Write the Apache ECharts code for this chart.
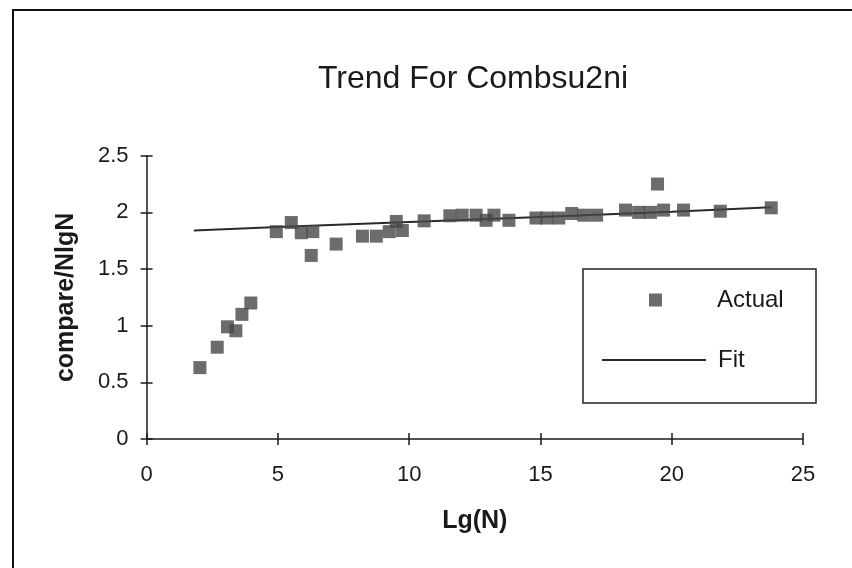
<!DOCTYPE html>
<html>
<head>
<meta charset="utf-8">
<script src="https://cdn.jsdelivr.net/npm/echarts@6/dist/echarts.min.js"></script>
<style>html,body{margin:0;padding:0;background:#fff;}#c{width:852px;height:568px;}</style>
</head>
<body>
<div id="c"></div>
<script>
var titleText = 'Trend For Combsu2ni';
var xName = 'Lg(N)';
var yName = 'compare/NlgN';
var actualX = [2.03, 2.69, 3.08, 3.40, 3.63, 3.97, 4.94, 5.51, 5.89, 6.33, 6.27, 7.22, 8.22, 8.75, 9.24, 9.51, 9.74, 10.57, 11.55, 12.02, 12.55, 12.93, 13.23, 13.80, 14.83, 15.24, 15.70, 16.19, 16.65, 17.14, 18.24, 18.74, 19.19, 19.46, 19.69, 20.45, 21.85, 23.79];
var actualY = [0.63, 0.81, 0.99, 0.955, 1.10, 1.20, 1.83, 1.91, 1.82, 1.83, 1.62, 1.72, 1.79, 1.79, 1.83, 1.92, 1.84, 1.925, 1.97, 1.975, 1.975, 1.93, 1.975, 1.93, 1.95, 1.95, 1.95, 1.99, 1.975, 1.975, 2.02, 2.00, 2.00, 2.25, 2.02, 2.02, 2.01, 2.04];
var fitX = [1.8, 5, 10, 15, 20, 23.8];
var fitY = [1.84, 1.87, 1.915, 1.96, 2.005, 2.045];

var actualData = actualX.map(function (x, i) { return [x, actualY[i]]; });
var fitData = fitX.map(function (x, i) { return [x, fitY[i]]; });

var font = 'Liberation Sans, Arial, sans-serif';
var ink = '#1a1a1a';
var gridBox = {left: 146.6, right: 49, top: 155.7, bottom: 129, containLabel: false};

var chart = echarts.init(document.getElementById('c'), null, {renderer: 'canvas'});
var tickStyle = {color: ink, width: 1.5};
chart.setOption({
  animation: false,
  backgroundColor: '#ffffff',
  title: {
    text: titleText, left: 318, top: 63, padding: 0,
    textStyle: {fontFamily: font, fontSize: 32, fontWeight: 'normal', color: ink}
  },
  grid: [Object.assign({}, gridBox), Object.assign({}, gridBox)],
  xAxis: [
    {
      type: 'value', min: 0, max: 25, interval: 5, gridIndex: 0,
      position: 'bottom', splitLine: {show: false},
      name: xName, nameLocation: 'middle', nameGap: 70,
      nameTextStyle: {fontFamily: font, fontSize: 25, fontWeight: 'bold', color: ink},
      axisLine: {show: true, onZero: false, lineStyle: {color: ink, width: 1.5}},
      axisTick: {show: true, inside: false, length: 6, lineStyle: tickStyle},
      axisLabel: {margin: 25, fontFamily: font, fontSize: 22, color: ink}
    },
    {
      type: 'value', min: 0, max: 25, interval: 5, gridIndex: 1,
      position: 'bottom', splitLine: {show: false},
      axisLine: {show: false, onZero: false},
      axisTick: {show: true, inside: true, length: 6, lineStyle: tickStyle},
      axisLabel: {show: false}
    }
  ],
  yAxis: [
    {
      type: 'value', min: 0, max: 2.5, interval: 0.5, gridIndex: 0,
      position: 'left', splitLine: {show: false},
      name: yName, nameLocation: 'middle', nameGap: 68, nameRotate: 90,
      nameTextStyle: {fontFamily: font, fontSize: 25, fontWeight: 'bold', color: ink},
      axisLine: {show: true, onZero: false, lineStyle: {color: ink, width: 1.5}},
      axisTick: {show: true, inside: false, length: 6, lineStyle: tickStyle},
      axisLabel: {margin: 18, fontFamily: font, fontSize: 22, color: ink}
    },
    {
      type: 'value', min: 0, max: 2.5, interval: 0.5, gridIndex: 1,
      position: 'left', splitLine: {show: false},
      axisLine: {show: false, onZero: false},
      axisTick: {show: true, inside: true, length: 6, lineStyle: tickStyle},
      axisLabel: {show: false}
    }
  ],
  legend: [
    {
      data: [{name: 'Actual', icon: 'rect'}],
      left: 649, top: 288, padding: 0,
      itemWidth: 13, itemHeight: 13,
      textStyle: {fontFamily: font, fontSize: 24, color: ink, padding: [0, 0, 0, 50]},
      selectedMode: false
    },
    {
      data: [{name: 'Fit', icon: 'rect'}],
      left: 602, top: 348, padding: 0,
      itemWidth: 104, itemHeight: 2,
      itemStyle: {color: '#2a2a2a'},
      textStyle: {fontFamily: font, fontSize: 24, color: ink, padding: [0, 0, 0, 7]},
      selectedMode: false
    }
  ],
  graphic: [
    {type: 'rect', shape: {x: 13, y: 10, width: 900, height: 600}, style: {fill: 'none', stroke: '#111', lineWidth: 2}, silent: true},
    {type: 'rect', shape: {x: 583, y: 269, width: 233, height: 134}, style: {fill: '#fff', stroke: '#222', lineWidth: 1.5}, silent: true, z: 1}
  ],
  series: [
    {
      name: 'Fit', type: 'line', data: fitData, xAxisIndex: 0, yAxisIndex: 0,
      showSymbol: false, symbol: 'none', smooth: false,
      lineStyle: {color: '#2a2a2a', width: 2}, z: 3
    },
    {
      name: 'Actual', type: 'scatter', data: actualData, xAxisIndex: 0, yAxisIndex: 0,
      symbol: 'rect', symbolSize: 13,
      itemStyle: {color: '#474747'}, z: 4
    },
    {
      name: 'ticks', type: 'scatter', data: [], xAxisIndex: 1, yAxisIndex: 1,
      silent: true
    }
  ]
});
</script>
</body>
</html>
